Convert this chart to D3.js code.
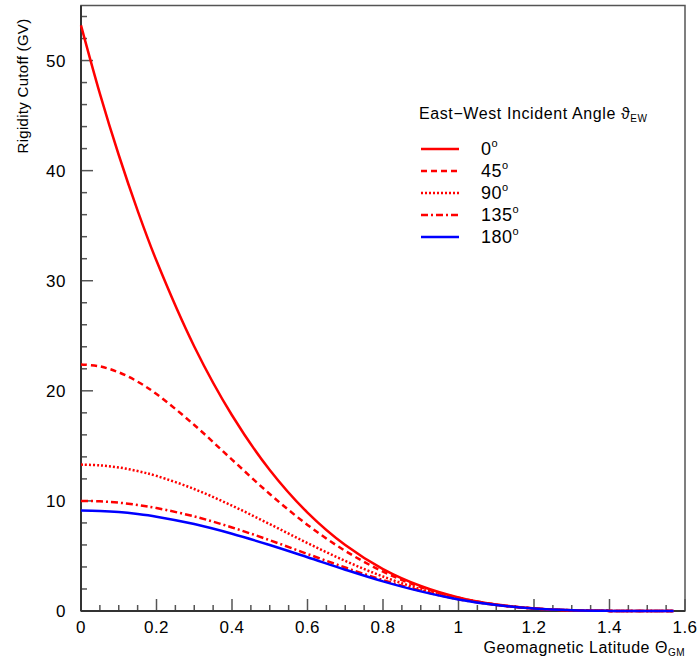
<!DOCTYPE html>
<html><head><meta charset="utf-8">
<script src="https://cdn.jsdelivr.net/npm/d3@7/dist/d3.min.js"></script>
<style>
body{margin:0;background:#fff;}
text{font-family:"Liberation Sans",Arial,Helvetica,sans-serif;fill:#000;}
</style></head>
<body><svg id="c" width="698" height="660"></svg>
<script>
const lat = [0,0.05,0.1,0.15,0.2,0.3,0.4,0.5,0.6,0.7,0.8,0.9,1.0,1.1,1.2,1.3,1.4,1.5,1.57];
const r0   = [53.2,47.0,41.42,36.37,31.81,24.03,17.78,12.81,8.94,5.99,3.81,2.27,1.23,0.59,0.235,0.069,0.011,0.0003,0];
const r45  = [22.40,22.22,21.68,20.83,19.71,16.90,13.75,10.63,7.82,5.46,3.58,2.17,1.20,0.58,0.235,0.069,0.011,0.0003,0];
const r90  = [13.30,13.23,13.04,12.71,12.27,11.08,9.57,7.89,6.17,4.55,3.13,1.99,1.13,0.56,0.23,0.068,0.011,0.0003,0];
const r135 = [10.00,9.96,9.84,9.63,9.35,8.59,7.59,6.43,5.18,3.95,2.81,1.83,1.07,0.545,0.226,0.068,0.011,0.0003,0];
const r180 = [9.13,9.09,8.99,8.81,8.57,7.90,7.02,5.99,4.88,3.75,2.69,1.78,1.05,0.538,0.224,0.068,0.011,0.0003,0];
const seriesNames = ["0","45","90","135","180"];
const xTicks = [0,0.2,0.4,0.6,0.8,1,1.2,1.4,1.6];
const xTickLabels = ["0","0.2","0.4","0.6","0.8","1","1.2","1.4","1.6"];
const yTicks = [0,10,20,30,40,50];

const series = [
  {name:"0",   vals:r0,   color:"#ff0000", dash:null},
  {name:"45",  vals:r45,  color:"#ff0000", dash:"6,4"},
  {name:"90",  vals:r90,  color:"#ff0000", dash:"2,2"},
  {name:"135", vals:r135, color:"#ff0000", dash:"7,3,2,3"},
  {name:"180", vals:r180, color:"#0000ff", dash:null}
];

const svg = d3.select("#c");
const L=81, R=685, T=5.5, B=611;
const x = d3.scaleLinear().domain([0,1.6]).range([L,R]);
const y = d3.scaleLinear().domain([0,55]).range([B,T]);

svg.append("rect").attr("x",L).attr("y",T).attr("width",R-L).attr("height",B-T)
  .attr("fill","none").attr("stroke","#555").attr("stroke-width",1.5);

const xMinor = d3.range(0,1.6001,0.05);
svg.append("g").selectAll("line").data(xMinor).join("line")
  .attr("x1",d=>x(d)).attr("x2",d=>x(d)).attr("y1",B)
  .attr("y2",(d,i)=> i%4===0 ? B-12 : B-6)
  .attr("stroke","#555").attr("stroke-width",1.5);
svg.append("g").selectAll("text").data(xTicks).join("text")
  .attr("x",d=>x(d)).attr("y",B+22).attr("text-anchor","middle")
  .attr("font-size",17).attr("letter-spacing",0.5).text((d,i)=>xTickLabels[i]);

const yMinor = d3.range(0,54.01,2);
svg.append("g").selectAll("line").data(yMinor).join("line")
  .attr("x1",L).attr("x2",d=> d%10===0 ? L+12 : L+6)
  .attr("y1",d=>y(d)).attr("y2",d=>y(d))
  .attr("stroke","#555").attr("stroke-width",1.5);
svg.append("g").selectAll("text").data(yTicks).join("text")
  .attr("x",L-15).attr("y",d=>y(d)+6).attr("text-anchor","end")
  .attr("font-size",17).attr("letter-spacing",0.5).text(d=>d);

svg.append("line").attr("x1",L).attr("x2",L).attr("y1",T).attr("y2",B).attr("stroke","#333").attr("stroke-width",2);
svg.append("line").attr("x1",L).attr("x2",R).attr("y1",B).attr("y2",B).attr("stroke","#333").attr("stroke-width",2);

svg.append("text").attr("transform","translate(28,86) rotate(-90)")
  .attr("text-anchor","middle").attr("font-size",15).attr("letter-spacing",0.3).text("Rigidity Cutoff (GV)");
const xt = svg.append("text").attr("x",R).attr("y",653).attr("text-anchor","end").attr("font-size",16).attr("letter-spacing",0.5);
xt.append("tspan").text("Geomagnetic Latitude \u0398");
xt.append("tspan").attr("font-size",10).attr("dy",3).text("GM");

const line = d3.line().x(d=>x(d[0])).y(d=>y(d[1])).curve(d3.curveCatmullRom.alpha(0.5));
series.forEach(s=>{
  svg.append("path").datum(lat.map((v,i)=>[v,s.vals[i]]))
    .attr("d",line).attr("fill","none").attr("stroke",s.color)
    .attr("stroke-width",2.5).attr("stroke-dasharray",s.dash);
});

const lt = svg.append("text").attr("x",419).attr("y",119).attr("font-size",16).attr("letter-spacing",0.6);
lt.append("tspan").text("East\u2212West Incident Angle \u03D1");
lt.append("tspan").attr("font-size",10).attr("dy",3).text("EW");
const ly = [149,171,193,215,237];
series.forEach((s,i)=>{
  svg.append("line").attr("x1",421).attr("x2",459).attr("y1",ly[i]).attr("y2",ly[i])
    .attr("stroke",s.color).attr("stroke-width",2.5).attr("stroke-dasharray",s.dash);
  const t = svg.append("text").attr("x",481).attr("y",ly[i]+6).attr("font-size",18).attr("letter-spacing",0.5);
  t.append("tspan").text(seriesNames[i]);
  t.append("tspan").attr("font-size",11).attr("dy",-8).text("o");
});
</script></body></html>
